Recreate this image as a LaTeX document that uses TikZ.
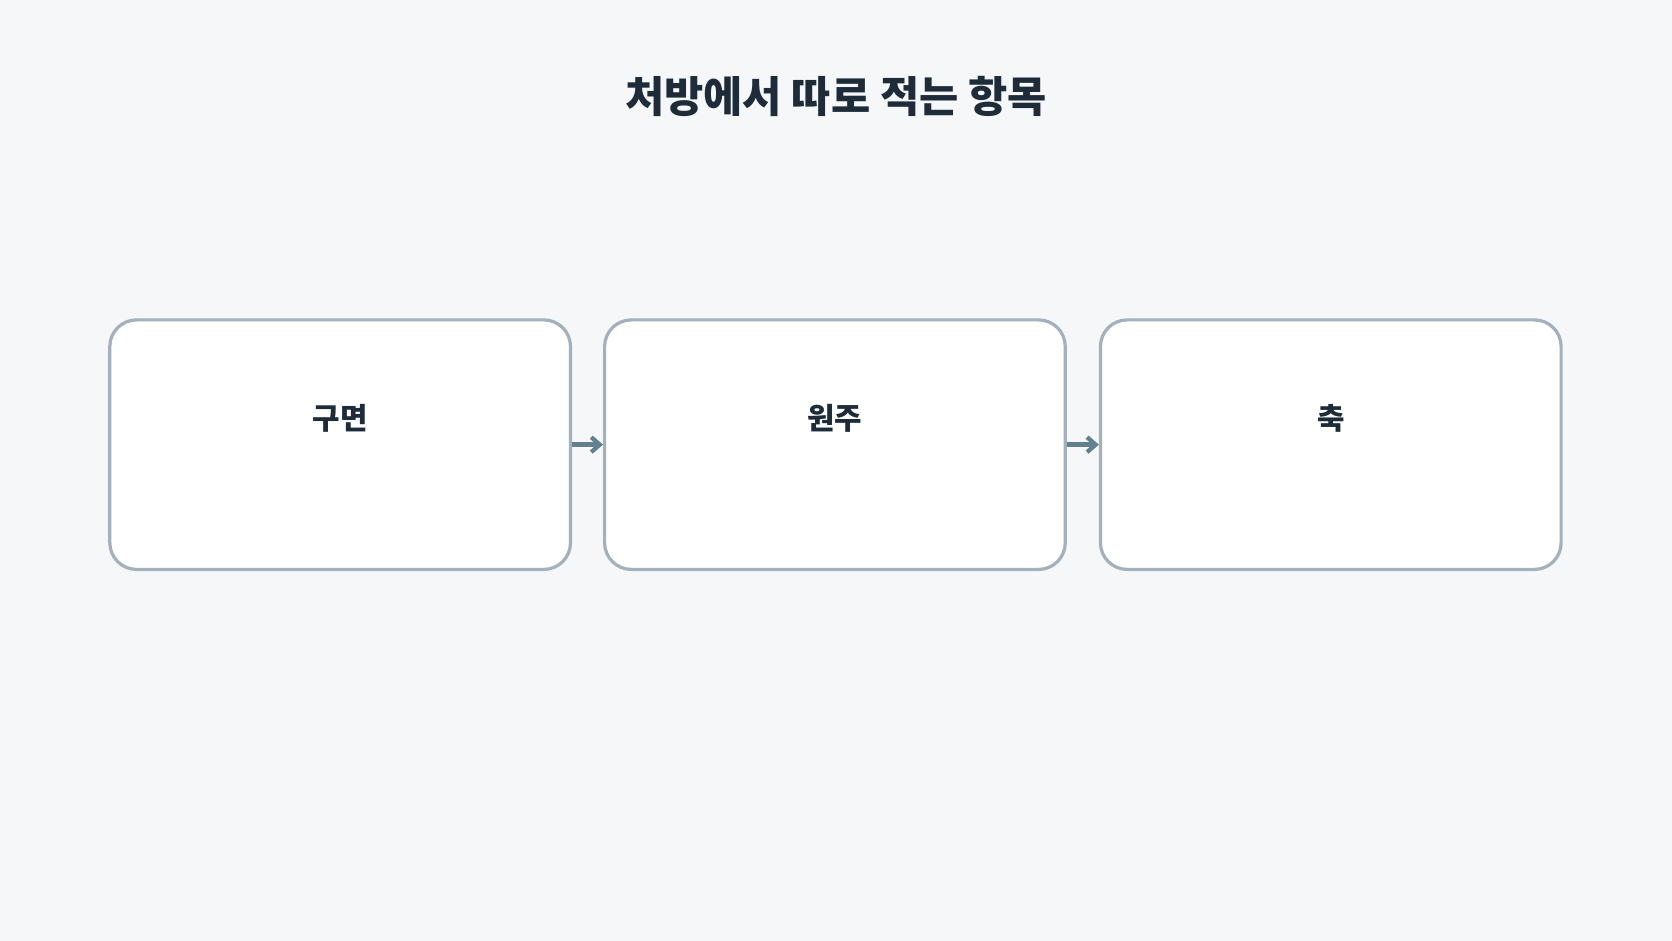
\documentclass[tikz,border=0pt]{standalone}
\usepackage{fontspec}
\setmainfont{Noto Sans CJK KR}
\usetikzlibrary{arrows.meta}
\definecolor{bg}{HTML}{F5F7F9}
\definecolor{bd}{HTML}{A3B1BC}
\definecolor{tx}{HTML}{1E2B38}
\definecolor{ar}{HTML}{62808E}
\begin{document}
\begin{tikzpicture}[x=0.5pt,y=-0.5pt,
  box/.style={draw=bd,line width=1.5pt,fill=white,rounded corners=12.5pt,minimum width=216pt,minimum height=117pt,inner sep=0pt},
  lab/.style={text=tx,font=\fontsize{14}{16}\selectfont\bfseries},
  conn/.style={draw=ar,line width=2.5pt,-{Straight Barb[length=4pt,width=7pt,line width=2pt]}}]
\fill[bg] (0,0) rectangle (1568,882);
\useasboundingbox (0,0) rectangle (1568,882);
\node[text=tx,font=\fontsize{20}{24}\selectfont\bfseries] (title) at (784,90) {처방에서 따로 적는 항목};
\node[box] (b1) at (319,417) {};
\node[box] (b2) at (783,417) {};
\node[box] (b3) at (1248,417) {};
\node[lab] (t1) at (319,392) {구면};
\node[lab] (t2) at (783,392) {원주};
\node[lab] (t3) at (1248,392) {축};
\draw[conn] (b1.east) -- (b2.west);
\draw[conn] (b2.east) -- (b3.west);
\end{tikzpicture}
\end{document}
